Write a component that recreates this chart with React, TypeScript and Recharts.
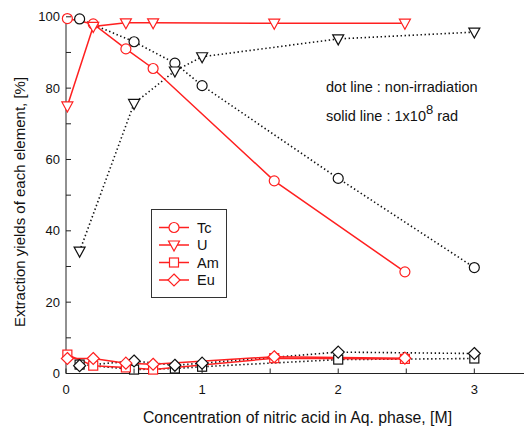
import { Legend, Line, LineChart, XAxis, YAxis } from 'recharts';

const FONT = '"Liberation Sans", Arial, sans-serif';
const RED = '#ff2020';
const BLACK = '#111';
const AXIS = '#222';

// x positions (HNO3 concentration, M)
const X_IRR = [0.01, 0.2, 0.44, 0.64, 1.53, 2.49];
const X_NON = [0.1, 0.5, 0.8, 1.0, 2.0, 3.0];

// 1x10^8 rad (solid red)
const TC_IRR = [99.5, 98, 91, 85.5, 54, 28.5];
const U_IRR = [75, 97.3, 98.3, 98.3, 98.2, 98.2];
const AM_IRR = [5.3, 2.2, 1.7, 1.1, 4.3, 4.1];
const EU_IRR = [4.2, 4.2, 2.9, 2.6, 4.7, 4.3];

// non-irradiation (dotted black)
const TC_NON = [99.4, 93, 87, 80.7, 54.7, 29.7];
const U_NON = [34.3, 75.7, 84.8, 88.8, 93.8, 95.7];
const AM_NON = [2.5, 1.1, 1.4, 1.9, 3.9, 4.2];
const EU_NON = [2.2, 3.5, 2.3, 2.9, 6.0, 5.6];

const X_TICKS = [0, 0.5, 1, 1.5, 2, 2.5, 3];
const Y_TICKS = [0, 10, 20, 30, 40, 50, 60, 70, 80, 90, 100];
const ELEMENTS = ['Tc', 'U', 'Am', 'Eu'];

type Shape = 'circle' | 'triangle' | 'square' | 'diamond';

const SHAPES: Record<string, Shape> = { Tc: 'circle', U: 'triangle', Am: 'square', Eu: 'diamond' };

const toPoints = (xs: number[], ys: number[]) => xs.map((x, i) => ({ x, y: ys[i] }));

const SERIES = [
  { id: 'tcNon', name: 'Tc', xs: X_NON, ys: TC_NON, irr: false },
  { id: 'uNon', name: 'U', xs: X_NON, ys: U_NON, irr: false },
  { id: 'amNon', name: 'Am', xs: X_NON, ys: AM_NON, irr: false },
  { id: 'euNon', name: 'Eu', xs: X_NON, ys: EU_NON, irr: false },
  { id: 'tcIrr', name: 'Tc', xs: X_IRR, ys: TC_IRR, irr: true },
  { id: 'uIrr', name: 'U', xs: X_IRR, ys: U_IRR, irr: true },
  { id: 'amIrr', name: 'Am', xs: X_IRR, ys: AM_IRR, irr: true },
  { id: 'euIrr', name: 'Eu', xs: X_IRR, ys: EU_IRR, irr: true }
];

function Marker({ cx, cy, shape, color }: { cx: number; cy: number; shape: Shape; color: string }) {
  if (cx == null || cy == null) return null;
  const common = { fill: '#fff', stroke: color, strokeWidth: 1.2 };
  if (shape === 'circle') return <circle cx={cx} cy={cy} r={5} {...common} />;
  if (shape === 'square') return <rect x={cx - 4.5} y={cy - 4.5} width={9} height={9} {...common} />;
  if (shape === 'triangle') {
    return <polygon points={`${cx - 5.5},${cy - 4} ${cx + 5.5},${cy - 4} ${cx},${cy + 6}`} {...common} />;
  }
  return <polygon points={`${cx},${cy - 6} ${cx + 6},${cy} ${cx},${cy + 6} ${cx - 6},${cy}`} {...common} />;
}

function BottomTick(props: any) {
  const { x, y, payload } = props;
  const v = payload.value;
  return (
    <g>
      <line x1={x} x2={x} y1={y} y2={y - 5} stroke={AXIS} />
      {Number.isInteger(v) && (
        <text x={x} y={y + 20.5} textAnchor="middle" fontSize={13} fill="#111" fontFamily={FONT}>
          {v}
        </text>
      )}
    </g>
  );
}

function TopTick(props: any) {
  const { x, y } = props;
  return <line x1={x} x2={x} y1={y} y2={y + 5} stroke="#666" />;
}

function LeftTick(props: any) {
  const { x, y, payload } = props;
  const v = payload.value;
  return (
    <g>
      <line x1={x} x2={x + 5} y1={y} y2={y} stroke={AXIS} />
      {v % 20 === 0 && (
        <text x={x - 6} y={y + 4.5} textAnchor="end" fontSize={13} fill="#111" fontFamily={FONT}>
          {v}
        </text>
      )}
    </g>
  );
}

function LegendBox(props: any) {
  const items = (props.payload ?? [])
    .filter((p: any) => p.type !== 'none')
    .sort((a: any, b: any) => ELEMENTS.indexOf(a.value) - ELEMENTS.indexOf(b.value));
  return (
    <svg width={77} height={90} style={{ display: 'block' }}>
      <rect x={0.5} y={0.5} width={75} height={88} fill="#fff" stroke="#333" />
      {items.map((item: any, i: number) => {
        const cy = 18.5 + i * 17.5;
        return (
          <g key={item.value + i}>
            <line x1={8} x2={38} y1={cy} y2={cy} stroke={RED} strokeWidth={1.5} />
            <Marker cx={23} cy={cy} shape={SHAPES[item.value]} color={RED} />
            <text x={46} y={cy + 5} fontSize={14.5} fill="#111" fontFamily={FONT}>
              {item.value}
            </text>
          </g>
        );
      })}
    </svg>
  );
}

export default function App() {
  return (
    <div style={{ position: 'absolute', left: 0, top: 0, width: 524, height: 429, background: '#fff' }}>
      <LineChart width={524} height={429} margin={{ top: 15, right: 0, bottom: 0, left: 0 }}>
        <XAxis
          type="number"
          dataKey="x"
          domain={[0, 3.365]}
          ticks={X_TICKS}
          interval={0}
          height={55.5}
          tickSize={0}
          tickMargin={0}
          tickLine={false}
          tick={BottomTick}
          axisLine={{ stroke: AXIS }}
          label={() => (
            <text x={297.5} y={423} textAnchor="middle" fontSize={15.8} fill="#111" fontFamily={FONT}>
              Concentration of nitric acid in Aq. phase, [M]
            </text>
          )}
        />
        <XAxis
          xAxisId="top"
          orientation="top"
          type="number"
          dataKey="x"
          domain={[0, 3.365]}
          ticks={X_TICKS}
          interval={0}
          height={0}
          tickSize={0}
          tickMargin={0}
          tickLine={false}
          tick={TopTick}
          axisLine={{ stroke: '#666' }}
        />
        <YAxis
          type="number"
          domain={[0, 100.5]}
          ticks={Y_TICKS}
          interval={0}
          width={66}
          tickSize={0}
          tickMargin={0}
          tickLine={false}
          tick={LeftTick}
          axisLine={{ stroke: AXIS }}
          label={() => (
            <text
              transform="rotate(-90)"
              x={-202}
              y={24.5}
              textAnchor="middle"
              fontSize={15}
              fill="#111"
              fontFamily={FONT}
            >
              Extraction yields of each element, [%]
            </text>
          )}
        />
        <Legend
          layout="vertical"
          align="center"
          verticalAlign="middle"
          content={LegendBox}
          wrapperStyle={{ left: 151, top: 209, width: 77, height: 90 }}
        />
        {SERIES.map((s) => {
          const color = s.irr ? RED : BLACK;
          return (
            <Line
              key={s.id}
              data={toPoints(s.xs, s.ys)}
              dataKey="y"
              name={s.name}
              type="linear"
              stroke={color}
              strokeWidth={s.irr ? 1.5 : 1.6}
              strokeDasharray={s.irr ? undefined : '1.4 2.6'}
              legendType={s.irr ? 'line' : 'none'}
              isAnimationActive={false}
              activeDot={false}
              dot={(p: any) => (
                <Marker key={`${s.id}-${p.index}`} cx={p.cx} cy={p.cy} shape={SHAPES[s.name]} color={color} />
              )}
            />
          );
        })}
      </LineChart>
      <svg
        width={524}
        height={429}
        style={{ position: 'absolute', left: 0, top: 0, pointerEvents: 'none' }}
        fontFamily={FONT}
        fill="#111"
      >
        <text x={326} y={91.5} fontSize={14.5}>
          dot line : non-irradiation
        </text>
        <text x={326} y={120.5} fontSize={14.5}>
          solid line : 1x10
          <tspan fontSize={13} dy={-7}>
            8
          </tspan>
          <tspan dy={7}> rad</tspan>
        </text>
      </svg>
    </div>
  );
}
